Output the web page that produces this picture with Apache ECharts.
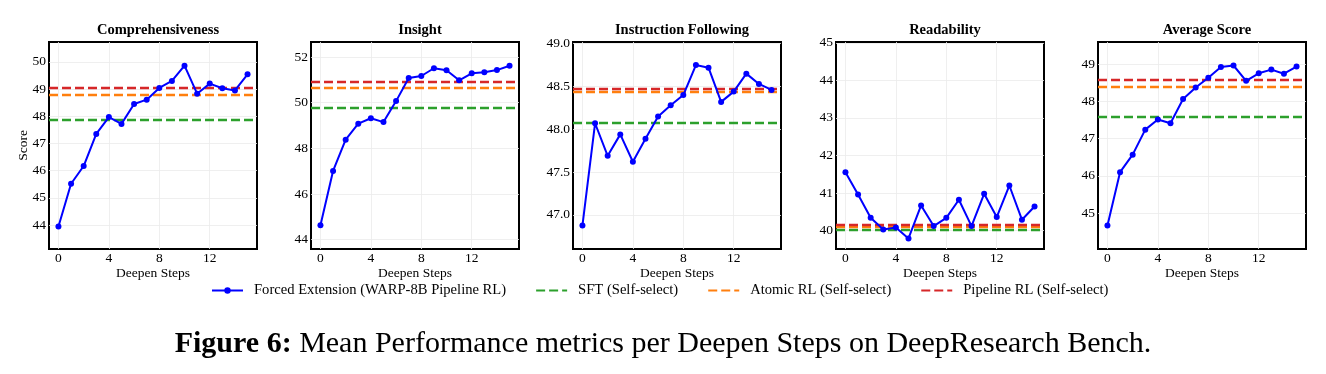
<!DOCTYPE html>
<html>
<head>
<meta charset="utf-8">
<script src="https://cdn.jsdelivr.net/npm/echarts@6/dist/echarts.min.js"></script>
<style>
  html, body { margin: 0; padding: 0; background: #fff; }
  #chart { width: 1326px; height: 374px; }
</style>
</head>
<body>
<div id="chart"></div>
<script>
// x values shared by all panels
const steps = [0, 1, 2, 3, 4, 5, 6, 7, 8, 9, 10, 11, 12, 13, 14, 15];
const xTicks = [0, 4, 8, 12];

const panelTitles = ["Comprehensiveness", "Insight", "Instruction Following", "Readability", "Average Score"];

// Forced Extension (WARP-8B Pipeline RL), per panel
const compData = [43.95, 45.52, 46.17, 47.35, 47.97, 47.72, 48.45, 48.61, 49.04, 49.3, 49.86, 48.83, 49.2, 49.03, 48.95, 49.54];
const insightData = [44.63, 47.01, 48.38, 49.08, 49.32, 49.15, 50.07, 51.08, 51.17, 51.51, 51.42, 50.98, 51.29, 51.33, 51.43, 51.62];
const instrData = [46.875, 48.07, 47.69, 47.94, 47.62, 47.89, 48.15, 48.28, 48.4, 48.75, 48.72, 48.32, 48.44, 48.65, 48.53, 48.46];
const readData = [41.55, 40.96, 40.34, 40.03, 40.08, 39.79, 40.67, 40.12, 40.34, 40.82, 40.12, 40.98, 40.36, 41.2, 40.29, 40.64];
const avgData = [44.67, 46.1, 46.57, 47.24, 47.51, 47.41, 48.06, 48.37, 48.63, 48.92, 48.96, 48.55, 48.75, 48.85, 48.74, 48.93];
const forcedData = [compData, insightData, instrData, readData, avgData];

// self-select baselines, one value per panel
const sftBase = [47.86, 49.76, 48.08, 40.03, 47.58];
const atomicBase = [48.78, 50.66, 48.44, 40.09, 48.39];
const pipelineBase = [49.04, 50.91, 48.465, 40.16, 48.57];

// y axis ticks per panel
const yTicks = [
  [44, 45, 46, 47, 48, 49, 50],
  [44, 46, 48, 50, 52],
  [47, 47.5, 48, 48.5, 49],
  [40, 41, 42, 43, 44, 45],
  [45, 46, 47, 48, 49],
];

const seriesNames = ["Forced Extension (WARP-8B Pipeline RL)", "SFT (Self-select)", "Atomic RL (Self-select)", "Pipeline RL (Self-select)"];

// layout
const FONT = "Liberation Serif";
const gridLeft = [49, 311, 573, 836, 1098];
const gridW = 208;
const gridTop = 42;
const gridH = 207;
const yMin = [43.12, 43.59, 46.6, 39.51, 44.04];
const yMax = [50.73, 52.66, 49.02, 45.02, 49.59];

const BLUE = "#0000ff";
const GREEN = "#2ca02c";
const ORANGE = "#ff7f0e";
const RED = "#d62728";
const DASH = [9, 4];

const grids = [];
const xAxes = [];
const yAxes = [];
const titles = [];
const series = [];

function baseline(name, color, value, i) {
  return {
    name: name,
    type: "line",
    xAxisIndex: i,
    yAxisIndex: i,
    data: [],
    symbol: "none",
    symbolSize: 0,
    lineStyle: { color: color, width: 2.4, type: DASH },
    itemStyle: { color: color },
    z: 2,
    markLine: {
      silent: true,
      symbol: ["none", "none"],
      label: { show: false },
      lineStyle: { color: color, width: 2.4, type: DASH },
      emphasis: { disabled: true },
      data: [{ yAxis: value }],
    },
  };
}

panelTitles.forEach((title, i) => {
  grids.push({
    left: gridLeft[i],
    top: gridTop,
    width: gridW,
    height: gridH,
    show: true,
    borderColor: "#000",
    borderWidth: 2,
    backgroundColor: "transparent",
  });

  titles.push({
    text: title,
    left: gridLeft[i] + gridW / 2,
    top: 18,
    textAlign: "center",
    textStyle: { fontFamily: FONT, fontWeight: "bold", fontSize: 14.5, color: "#000" },
  });

  xAxes.push({
    type: "value",
    gridIndex: i,
    min: -0.75,
    max: 15.75,
    name: "Deepen Steps",
    nameLocation: "middle",
    nameGap: 17,
    nameMoveOverlap: false,
    nameTextStyle: { fontFamily: FONT, fontSize: 13.5, color: "#000" },
    axisLine: { show: false },
    axisTick: { show: false, customValues: xTicks },
    axisLabel: {
      customValues: xTicks,
      margin: 2,
      fontFamily: FONT,
      fontSize: 13.5,
      color: "#000",
    },
    splitLine: { show: true, lineStyle: { color: "#ebebeb", width: 0.8 } },
  });

  yAxes.push({
    type: "value",
    gridIndex: i,
    min: yMin[i],
    max: yMax[i],
    name: i === 0 ? "Score" : "",
    nameLocation: "middle",
    nameGap: 19,
    nameMoveOverlap: false,
    nameTextStyle: { fontFamily: FONT, fontSize: 13.5, color: "#000" },
    axisLine: { show: false },
    axisTick: { show: false, customValues: yTicks[i] },
    axisLabel: {
      customValues: yTicks[i],
      margin: 3,
      fontFamily: FONT,
      fontSize: 13.5,
      color: "#000",
      formatter: (v) => (i === 2 ? v.toFixed(1) : String(v)),
    },
    splitLine: { show: true, lineStyle: { color: "#ebebeb", width: 0.8 } },
  });

  series.push(baseline(seriesNames[1], GREEN, sftBase[i], i));
  series.push(baseline(seriesNames[2], ORANGE, atomicBase[i], i));
  series.push(baseline(seriesNames[3], RED, pipelineBase[i], i));

  series.push({
    name: seriesNames[0],
    type: "line",
    xAxisIndex: i,
    yAxisIndex: i,
    data: steps.map((s, k) => [s, forcedData[i][k]]),
    symbol: "circle",
    symbolSize: 6,
    lineStyle: { color: BLUE, width: 2 },
    itemStyle: { color: BLUE },
    z: 5,
  });
});

titles.push({
  text: "{b|Figure 6:} Mean Performance metrics per Deepen Steps on DeepResearch Bench.",
  left: "center",
  top: 324,
  textStyle: {
    fontFamily: FONT,
    fontSize: 30,
    fontWeight: "normal",
    color: "#000",
    rich: {
      b: { fontFamily: FONT, fontSize: 30, fontWeight: "bold", color: "#000" },
    },
  },
});

const option = {
  backgroundColor: "#fff",
  animation: false,
  title: titles,
  grid: grids,
  xAxis: xAxes,
  yAxis: yAxes,
  legend: {
    data: [
      { name: seriesNames[0] },
      { name: seriesNames[1], itemStyle: { opacity: 0 } },
      { name: seriesNames[2], itemStyle: { opacity: 0 } },
      { name: seriesNames[3], itemStyle: { opacity: 0 } },
    ],
    left: 211,
    top: 283,
    padding: 0,
    itemWidth: 31,
    itemHeight: 8,
    itemGap: 29,
    textStyle: { fontFamily: FONT, fontSize: 14.6, color: "#000", padding: [0, 0, 0, 6] },
  },
  series: series,
};

const chart = echarts.init(document.getElementById("chart"), null, { renderer: "canvas" });
chart.setOption(option);
</script>
</body>
</html>
